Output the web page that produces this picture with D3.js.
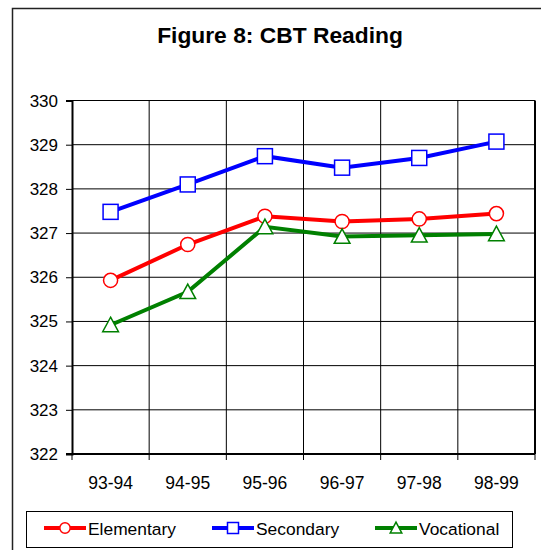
<!DOCTYPE html>
<html>
<head>
<meta charset="utf-8">
<script src="https://cdn.jsdelivr.net/npm/d3@7"></script>
<style>
  body { margin: 0; background: #fff; }
  text { font-family: "Liberation Sans", Arial, sans-serif; }
</style>
</head>
<body>
<div id="chart"></div>
<script>
// chart data
const years = ['93-94', '94-95', '95-96', '96-97', '97-98', '98-99'];
const elementary = [325.93, 326.74, 327.38, 327.26, 327.32, 327.44];
const secondary = [327.48, 328.10, 328.74, 328.48, 328.70, 329.07];
const vocational = [324.92, 325.67, 327.14, 326.92, 326.95, 326.98];
const yTicks = [322, 323, 324, 325, 326, 327, 328, 329, 330];

const series = [
  { name: 'Elementary', values: elementary, color: '#ff0000', marker: 'circle' },
  { name: 'Secondary', values: secondary, color: '#0000ff', marker: 'square' },
  { name: 'Vocational', values: vocational, color: '#008000', marker: 'triangle' }
];

const width = 541, height = 550;
const plot = { left: 72, top: 100.5, right: 535, bottom: 454 };

const svg = d3.select('#chart').append('svg')
  .attr('width', width)
  .attr('height', height);

// outer frame
svg.append('rect')
  .attr('x', 12.5).attr('y', 8.5)
  .attr('width', 560).attr('height', 600)
  .attr('fill', 'none')
  .attr('stroke', '#222')
  .attr('stroke-width', 1.5);

svg.append('text')
  .attr('x', 280).attr('y', 43)
  .attr('text-anchor', 'middle')
  .style('font-size', '22.8px')
  .attr('font-weight', 'bold')
  .text('Figure 8: CBT Reading');

const x = d3.scaleBand().domain(years).range([plot.left, plot.right]);
const y = d3.scaleLinear().domain([322, 330]).range([plot.bottom, plot.top]);

// grid
const g = svg.append('g');
g.selectAll('.hgrid').data(yTicks).enter().append('line')
  .attr('x1', plot.left).attr('x2', plot.right)
  .attr('y1', d => y(d)).attr('y2', d => y(d))
  .attr('stroke', '#000').attr('stroke-width', 1);
g.selectAll('.vgrid').data(years.slice(1)).enter().append('line')
  .attr('x1', d => x(d)).attr('x2', d => x(d))
  .attr('y1', plot.top).attr('y2', plot.bottom)
  .attr('stroke', '#000').attr('stroke-width', 1);

// plot border right
g.append('line')
  .attr('x1', plot.right).attr('x2', plot.right)
  .attr('y1', plot.top).attr('y2', plot.bottom)
  .attr('stroke', '#000').attr('stroke-width', 2);

// y axis: ticks from d3, labels drawn below
const yAxis = svg.append('g')
  .attr('transform', `translate(${plot.left},0)`)
  .call(d3.axisLeft(y).tickValues(yTicks).tickSize(6).tickFormat(''));
yAxis.select('.domain').attr('stroke-width', 2);
svg.selectAll('.ylab').data(yTicks).enter().append('text')
  .attr('x', plot.left - 14)
  .attr('y', d => y(d) + 6)
  .attr('text-anchor', 'end')
  .style('font-size', '17px')
  .text(d => d);

const xTickPos = years.map(d => x(d)).concat([plot.right]);
const xAxisG = svg.append('g');
xAxisG.append('line')
  .attr('x1', plot.left - 6).attr('x2', plot.right)
  .attr('y1', plot.bottom).attr('y2', plot.bottom)
  .attr('stroke', '#000').attr('stroke-width', 2);
xAxisG.selectAll('.xt').data(xTickPos).enter().append('line')
  .attr('x1', d => d).attr('x2', d => d)
  .attr('y1', plot.bottom).attr('y2', plot.bottom + 6)
  .attr('stroke', '#000');
xAxisG.selectAll('.xl').data(years).enter().append('text')
  .attr('x', d => x(d) + x.bandwidth() / 2)
  .attr('y', 489)
  .attr('text-anchor', 'middle')
  .style('font-size', '17.5px')
  .text(d => d);

function drawMarker(sel, type, color, size) {
  if (type === 'circle') {
    sel.append('circle').attr('r', size * 0.47)
      .attr('fill', '#fff').attr('stroke', color).attr('stroke-width', 1.5);
  } else if (type === 'square') {
    sel.append('rect').attr('x', -size / 2).attr('y', -size / 2)
      .attr('width', size).attr('height', size)
      .attr('fill', '#fff').attr('stroke', color).attr('stroke-width', 1.5);
  } else {
    const h = size * 0.9, w = size * 1.05;
    sel.append('path')
      .attr('d', `M0,${-h / 2 - 1}L${w / 2},${h / 2}L${-w / 2},${h / 2}Z`)
      .attr('fill', '#fff').attr('stroke', color).attr('stroke-width', 1.5);
  }
}

const line = d3.line()
  .x((d, i) => x(years[i]) + x.bandwidth() / 2)
  .y(d => y(d));

series.forEach(s => {
  svg.append('path')
    .datum(s.values)
    .attr('d', line)
    .attr('fill', 'none')
    .attr('stroke', s.color)
    .attr('stroke-width', 4);
  svg.selectAll(null).data(s.values).enter().append('g')
    .attr('transform', (d, i) => `translate(${x(years[i]) + x.bandwidth() / 2},${y(d)})`)
    .each(function () { drawMarker(d3.select(this), s.marker, s.color, 15); });
});

// legend
const legend = svg.append('g');
legend.append('rect')
  .attr('x', 26.5).attr('y', 511.5)
  .attr('width', 486).attr('height', 36)
  .attr('fill', '#fff').attr('stroke', '#000').attr('stroke-width', 1);
const legendX = [44, 212, 375];
series.forEach((s, i) => {
  const lg = legend.append('g').attr('transform', `translate(${legendX[i]},528)`);
  lg.append('line').attr('x1', 0).attr('x2', 42).attr('y1', 0).attr('y2', 0)
    .attr('stroke', s.color).attr('stroke-width', 4);
  const m = lg.append('g').attr('transform', 'translate(21,0)');
  drawMarker(m, s.marker, s.color, 11);
  lg.append('text').attr('x', 44).attr('y', 7)
    .style('font-size', '17.4px').text(s.name);
});
</script>
</body>
</html>
